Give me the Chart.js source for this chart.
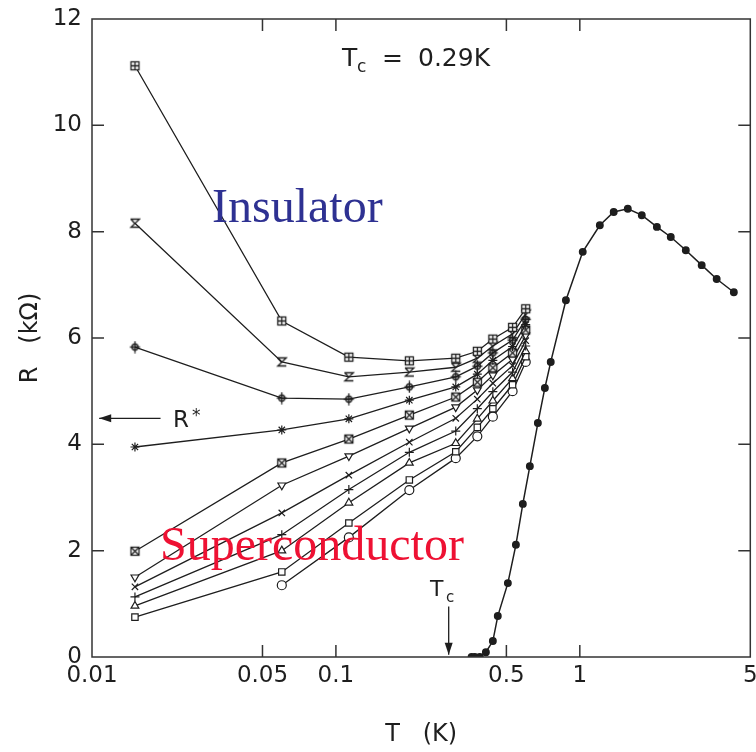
<!DOCTYPE html>
<html>
<head>
<meta charset="utf-8">
<script src="https://cdn.jsdelivr.net/npm/chart.js@4"></script>
<style>
  html, body { margin:0; padding:0; background:#fff; }
  #wrap { width:756px; height:752px; }
</style>
</head>
<body>
<div id="wrap"><canvas id="c" width="756" height="752"></canvas></div>
<script>
// temperatures (K) of the film measurements
const T_COLS = [0.015, 0.06, 0.113, 0.2, 0.31, 0.38, 0.44, 0.53, 0.6];
// R (kOhm) per film, top to bottom
const R_S1  = [11.12, 6.32, 5.64, 5.57, 5.62, 5.75, 5.98, 6.20, 6.55];
const R_S2  = [8.16, 5.55, 5.27, 5.36, 5.45, 5.62, 5.85, 6.08, 6.45];
const R_S3  = [5.83, 4.87, 4.85, 5.08, 5.27, 5.47, 5.72, 5.96, 6.35];
const R_S4  = [3.95, 4.27, 4.48, 4.83, 5.08, 5.32, 5.58, 5.84, 6.25];
const R_S5  = [1.99, 3.65, 4.10, 4.55, 4.89, 5.17, 5.44, 5.72, 6.15];
const R_S6  = [1.50, 3.23, 3.78, 4.30, 4.70, 5.02, 5.30, 5.60, 6.05];
const R_S7  = [1.32, 2.71, 3.42, 4.04, 4.49, 4.85, 5.15, 5.48, 5.95];
const R_S8  = [1.13, 2.30, 3.15, 3.85, 4.25, 4.67, 4.99, 5.36, 5.85];
const R_S9  = [0.96, 2.00, 2.90, 3.65, 4.02, 4.48, 4.82, 5.24, 5.75];
const R_S10 = [0.75, 1.60, 2.52, 3.33, 3.86, 4.32, 4.67, 5.12, 5.65];
const R_S11 = [null, 1.35, 2.25, 3.14, 3.74, 4.15, 4.52, 5.00, 5.55];

// the single dotted curve (bulk sample)
const T_DOT = [0.36, 0.371, 0.389, 0.412, 0.44, 0.461, 0.507, 0.547, 0.584, 0.624, 0.673, 0.719, 0.76,
               0.877, 1.028, 1.208, 1.377, 1.573, 1.795, 2.07, 2.36, 2.72, 3.16, 3.64, 4.28];
const R_DOT = [0, 0, 0, 0.09, 0.30, 0.77, 1.39, 2.11, 2.88, 3.59, 4.40, 5.06, 5.55,
               6.71, 7.62, 8.12, 8.37, 8.43, 8.31, 8.09, 7.90, 7.65, 7.37, 7.11, 6.86];

const X_TICKS = [0.01, 0.05, 0.1, 0.5, 1, 5];
const Y_TICKS = [0, 2, 4, 6, 8, 10, 12];

const INK = '#1e1e1e';
const SANS = '"DejaVu Sans", "Liberation Sans", sans-serif';

// little symbol canvases
function sym(draw){
  const c = document.createElement('canvas');
  c.width = 13; c.height = 13;
  const g = c.getContext('2d');
  g.strokeStyle = INK; g.lineWidth = 1.3; g.fillStyle = '#fff';
  draw(g);
  return c;
}
const boxPlus = sym(g => {
  g.fillRect(2,2,9,9); g.strokeRect(2.5,2.5,8,8);
  g.beginPath(); g.moveTo(6.5,2); g.lineTo(6.5,11); g.moveTo(2,6.5); g.lineTo(11,6.5); g.stroke();
});
const hourglass = sym(g => {
  g.beginPath();
  g.moveTo(2,2.5); g.lineTo(11,2.5); g.lineTo(2.5,10.5); g.lineTo(11,10.5);
  g.moveTo(2.5,2.5); g.lineTo(6,6.5);
  g.stroke();
});
const circPlus = sym(g => {
  g.beginPath(); g.arc(6.5,6.5,3,0,Math.PI*2); g.stroke();
  g.beginPath(); g.moveTo(6.5,0.5); g.lineTo(6.5,12.5); g.moveTo(1.5,6.5); g.lineTo(11.5,6.5); g.stroke();
});
const boxX = sym(g => {
  g.fillRect(2,2,9,9); g.strokeRect(2.5,2.5,8,8);
  g.beginPath(); g.moveTo(2.5,2.5); g.lineTo(10.5,10.5); g.moveTo(10.5,2.5); g.lineTo(2.5,10.5); g.stroke();
});

function film(data, style, rot){
  return {
    data: T_COLS.map((t, i) => ({ x: t, y: data[i] })).filter(p => p.y !== null),
    showLine: true,
    borderColor: INK,
    borderWidth: 1.3,
    pointStyle: style,
    pointRotation: rot || 0,
    pointRadius: 4.5,
    pointBorderColor: INK,
    pointBackgroundColor: '#fff',
    pointBorderWidth: 1.2
  };
}

const datasets = [
  film(R_S1, boxPlus),
  film(R_S2, hourglass),
  film(R_S3, circPlus),
  film(R_S4, 'star'),
  film(R_S5, boxX),
  film(R_S6, 'triangle', 180),
  film(R_S7, 'crossRot'),
  film(R_S8, 'cross'),
  film(R_S9, 'triangle'),
  film(R_S10, 'rect'),
  film(R_S11, 'circle'),
  {
    data: T_DOT.map((t, i) => ({ x: t, y: R_DOT[i] })),
    showLine: true,
    borderColor: INK,
    borderWidth: 1.5,
    pointStyle: 'circle',
    pointRadius: 3.2,
    pointBackgroundColor: INK,
    pointBorderColor: INK
  }
];

// frame, inward ticks and the labels written on the figure
const decor = {
  id: 'decor',
  afterDraw(chart){
    const { ctx, chartArea: a, scales: { x, y } } = chart;
    ctx.save();
    ctx.strokeStyle = '#333';
    ctx.lineWidth = 1.5;
    ctx.strokeRect(a.left, a.top, a.right - a.left, a.bottom - a.top);
    ctx.beginPath();
    Y_TICKS.slice(1, -1).forEach(v => {
      const py = y.getPixelForValue(v);
      ctx.moveTo(a.left, py); ctx.lineTo(a.left + 12, py);
      ctx.moveTo(a.right, py); ctx.lineTo(a.right - 12, py);
    });
    X_TICKS.slice(1, -1).forEach(v => {
      const px = x.getPixelForValue(v);
      ctx.moveTo(px, a.bottom); ctx.lineTo(px, a.bottom - 12);
      ctx.moveTo(px, a.top); ctx.lineTo(px, a.top + 12);
    });
    ctx.stroke();

    ctx.fillStyle = INK;
    ctx.strokeStyle = INK;
    ctx.lineWidth = 1.3;
    ctx.textBaseline = 'alphabetic';
    ctx.textAlign = 'left';

    // Tc = 0.29K
    let px = 342, py = 66;
    ctx.font = '25px ' + SANS;
    ctx.fillText('T', px, py);
    ctx.font = '17px ' + SANS;
    ctx.fillText('c', px + 15, py + 6);
    ctx.font = '25px ' + SANS;
    ctx.fillText('=', px + 40, py);
    ctx.fillText('0.29K', px + 76, py);

    // R* arrow
    const ry = y.getPixelForValue(4.49);
    const rx0 = x.getPixelForValue(0.0107), rx1 = x.getPixelForValue(0.0191);
    ctx.beginPath(); ctx.moveTo(rx1, ry); ctx.lineTo(rx0, ry); ctx.stroke();
    ctx.beginPath(); ctx.moveTo(rx0, ry); ctx.lineTo(rx0 + 12, ry - 4); ctx.lineTo(rx0 + 12, ry + 4); ctx.closePath(); ctx.fill();
    ctx.font = '23px ' + SANS;
    ctx.fillText('R', 173, 427);
    ctx.font = '17px ' + SANS;
    ctx.fillText('*', 192, 421);

    // Tc arrow
    const tx = x.getPixelForValue(0.29);
    const ty0 = y.getPixelForValue(0.95), ty1 = y.getPixelForValue(0.04);
    ctx.beginPath(); ctx.moveTo(tx, ty0); ctx.lineTo(tx, ty1); ctx.stroke();
    ctx.beginPath(); ctx.moveTo(tx, ty1); ctx.lineTo(tx - 4, ty1 - 12); ctx.lineTo(tx + 4, ty1 - 12); ctx.closePath(); ctx.fill();
    ctx.font = '22px ' + SANS;
    ctx.fillText('T', 430, 596);
    ctx.font = '15px ' + SANS;
    ctx.fillText('c', 446, 602);

    // region names
    ctx.font = '48px "Liberation Serif", "Times New Roman", serif';
    ctx.fillStyle = '#2e3192';
    ctx.fillText('Insulator', 212, 222);
    ctx.fillStyle = '#ee1133';
    ctx.fillText('Superconductor', 160, 560);
    ctx.restore();
  }
};

new Chart(document.getElementById('c'), {
  type: 'scatter',
  data: { datasets },
  plugins: [decor],
  options: {
    responsive: false,
    animation: false,
    layout: { padding: { top: 19, right: 5, left: 0, bottom: 0 } },
    plugins: { legend: { display: false }, tooltip: { enabled: false } },
    scales: {
      x: {
        type: 'logarithmic',
        min: 0.01, max: 5,
        afterBuildTicks: s => { s.ticks = X_TICKS.map(v => ({ value: v })); },
        afterFit: s => { s.height = 95; s.paddingLeft = 0; s.paddingRight = 0; },
        grid: { display: false, drawTicks: false },
        border: { display: false },
        ticks: { font: { size: 23, family: SANS }, color: INK, padding: 5, maxRotation: 0, autoSkip: false,
                 callback: v => String(v) },
        title: { display: true, text: 'T   (K)', color: INK, font: { size: 24, family: SANS },
                 padding: { top: 0, bottom: 3 } }
      },
      y: {
        min: 0, max: 12,
        afterBuildTicks: s => { s.ticks = Y_TICKS.map(v => ({ value: v })); },
        afterFit: s => { s.width = 92; s.paddingTop = 0; s.paddingBottom = 0; },
        grid: { display: false, drawTicks: false },
        border: { display: false },
        ticks: { font: { size: 23, family: SANS }, color: INK, padding: 10 },
        title: { display: true, text: 'R   (kΩ)', color: INK, font: { size: 24, family: SANS },
                 padding: { top: 16, bottom: 0 } }
      }
    }
  }
});
</script>
</body>
</html>
